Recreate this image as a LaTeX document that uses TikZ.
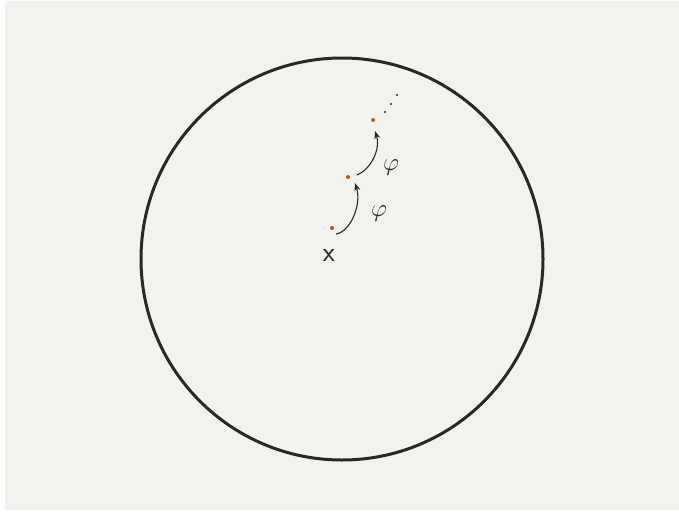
\documentclass[tikz,border=0pt]{standalone}
\usepackage{tikz}
\usetikzlibrary{arrows.meta}
\definecolor{paper}{HTML}{F3F2EE}
\definecolor{ink}{HTML}{2A2826}
\definecolor{spark}{HTML}{E0481A}
\tikzset{
    orbit/.style={ink, line width=3pt},
    pt/.style={circle, fill=spark, inner sep=0pt, minimum size=4pt},
    tail/.style={circle, fill=ink, inner sep=0pt, minimum size=2.4pt},
    hop/.style={ink, line width=1.1pt, -{Stealth[length=8pt, width=6pt]}},
    lbl/.style={ink, font=\fontsize{28}{28}\selectfont}
}
\begin{document}
\begin{tikzpicture}[x=1pt, y=-1pt]
\useasboundingbox (0,0) rectangle (679,514);
\fill[white] (0,0) rectangle (679,514);
\fill[paper] (5,1) rectangle (679,510);

% the ball
\draw[orbit] (342,259) circle (201);

% orbit points
\node[pt] (p0) at (332,228) {};
\node[pt] (p1) at (348,177) {};
\node[pt] (p2) at (373,120) {};
\node[tail] (d1) at (385,112) {};
\node[tail] (d2) at (391,104) {};
\node[tail] (d3) at (397,95) {};

\node[lbl, font=\fontsize{28}{28}\selectfont\sffamily] (x) at (329,255) {x};
\node[lbl] (phi1) at (379,214) {$\varphi$};
\node[lbl] (phi2) at (391,168) {$\varphi$};

% hops
\coordinate (s0) at (336,234);
\coordinate (e0) at (355,183);
\coordinate (s1) at (357,175);
\coordinate (e1) at (375,131);
\draw[hop] (s0) .. controls (350,232) and (362,205) .. (e0);
\draw[hop] (s1) .. controls (370,170) and (381,150) .. (e1);
\end{tikzpicture}
\end{document}
